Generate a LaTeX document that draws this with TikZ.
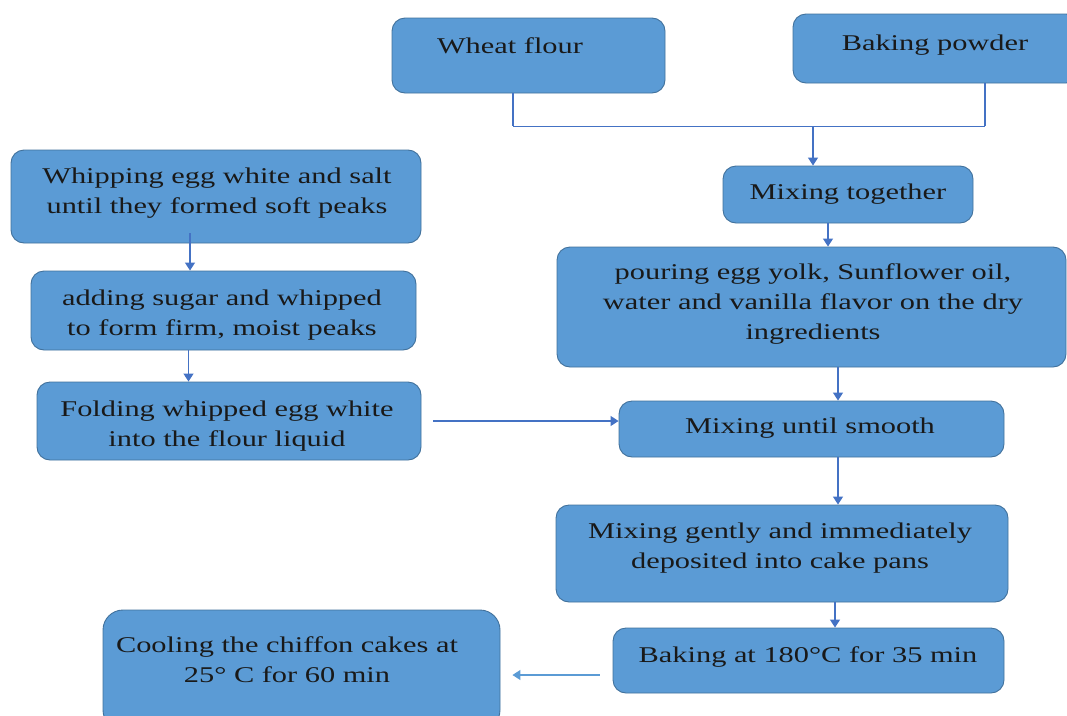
\documentclass[tikz,border=0pt]{standalone}
\usepackage{fontspec}
\setmainfont[FakeStretch=1.35]{Liberation Serif}
\usetikzlibrary{arrows.meta,calc}
\definecolor{boxfill}{HTML}{5B9BD5}
\definecolor{boxline}{HTML}{41719C}
\definecolor{arrcol}{HTML}{4472C4}
\tikzset{
  box/.style={draw=boxline, line width=0.9pt, fill=boxfill, rounded corners=13pt, inner sep=0pt},
  txt/.style={font=\fontsize{22.5}{30}\selectfont, align=center, anchor=base, inner sep=0pt, text=black!90},
  conn/.style={draw=arrcol, line width=1.3pt},
  arr/.style={conn, -{Triangle[width=10pt,length=8pt]}},
}
\begin{document}
\begin{tikzpicture}[x=1pt,y=-1pt]
\useasboundingbox (0,0) rectangle (1067,715);
\clip (0,0) rectangle (1067,715);
% boxes
\node[box, minimum width=273, minimum height=75] (wf) at (528.5,55.5) {};
\node[box, minimum width=286, minimum height=69] (bp) at (936,48.5) {};
\node[box, minimum width=250, minimum height=57] (mt) at (848,194.5) {};
\node[box, minimum width=509, minimum height=120] (pour) at (811.5,307) {};
\node[box, minimum width=385, minimum height=56] (smooth) at (811.5,429) {};
\node[box, minimum width=452, minimum height=97] (gently) at (782,553.5) {};
\node[box, minimum width=391, minimum height=65] (bake) at (808.5,660.5) {};
\node[box, minimum width=397, minimum height=120, rounded corners=20pt] (cool) at (301.5,670) {};
\node[box, minimum width=410, minimum height=93] (whip) at (216,196.5) {};
\node[box, minimum width=385, minimum height=79] (add) at (223.5,310.5) {};
\node[box, minimum width=384, minimum height=78] (fold) at (229,421) {};
% texts (base anchor = baseline of the last line)
\node[txt] (twf) at (510,53) {Wheat flour};
\node[txt] (tbp) at (935,50) {Baking powder};
\node[txt] (tmt) at (848,199) {Mixing together};
\node[txt] (tpour) at (813,339) {pouring egg yolk, Sunflower oil,\\water and vanilla flavor on the dry\\ingredients};
\node[txt] (tsmooth) at (810,433) {Mixing until smooth};
\node[txt] (tgently) at (780,568) {Mixing gently and immediately\\deposited into cake pans};
\node[txt] (tbake) at (808,662) {Baking at 180°C for 35 min};
\node[txt] (tcool) at (287,682) {Cooling the chiffon cakes at\\25° C for 60 min};
\node[txt] (twhip) at (217,213) {Whipping egg white and salt\\until they formed soft peaks};
\node[txt] (tadd) at (222,335) {adding sugar and whipped\\to form firm, moist peaks};
\node[txt] (tfold) at (227,446) {Folding whipped egg white\\into the flour liquid};
% connectors
\draw[conn] ([xshift=-15.5pt]wf.south) -- ++(0,33) coordinate (jl);
\draw[conn] ([xshift=49pt]bp.south) -- ++(0,43) coordinate (jr);
\draw[conn] (jl) -- (jr);
\coordinate (jm) at ([xshift=-35pt]mt.north |- jl);
\draw[arr] (jm) -- ([xshift=-35pt]mt.north);
\draw[arr] ([xshift=-20pt]mt.south) coordinate (m1) -- (m1 |- pour.north);
\draw[arr] ([xshift=26.5pt]pour.south) coordinate (p1) -- (p1 |- smooth.north);
\draw[arr] ([xshift=26.5pt]smooth.south) coordinate (s1) -- (s1 |- gently.north);
\draw[arr] ([xshift=53pt]gently.south) coordinate (g1) -- (g1 |- bake.north);
\draw[arr] ([xshift=12pt]fold.east) coordinate (f1) -- (f1 -| smooth.west);
\draw[arr, draw=boxfill] ([xshift=-13pt,yshift=-14.5pt]bake.west) coordinate (b1) -- ($(b1 -| cool.east)+(12,0)$);
\draw[arr] ([xshift=-26pt,yshift=10pt]whip.south) coordinate (w1) -- (w1 |- add.north);
\draw[arr] ([xshift=-35pt]add.south) coordinate (a1) -- (a1 |- fold.north);
\end{tikzpicture}
\end{document}
